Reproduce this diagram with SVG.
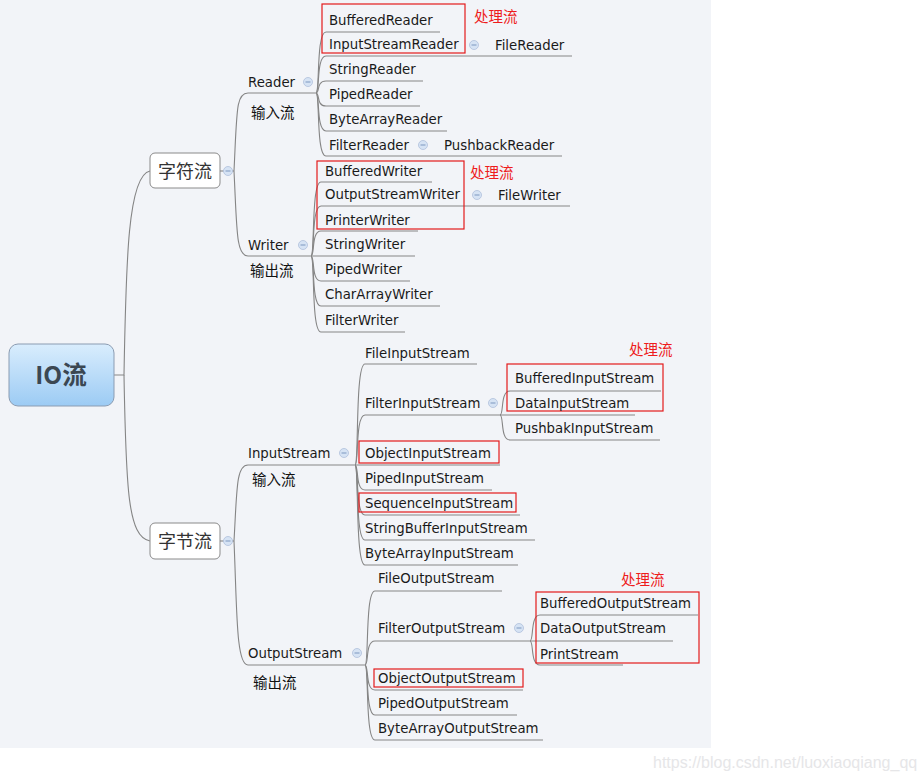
<svg xmlns="http://www.w3.org/2000/svg" width="924" height="780" viewBox="0 0 924 780">
<defs>
<linearGradient id="rootGrad" x1="0" y1="0" x2="0" y2="1">
<stop offset="0" stop-color="#d9edfd"/>
<stop offset="1" stop-color="#9ccbf4"/>
</linearGradient>
<style>
.t{font-family:"DejaVu Sans","Liberation Sans",sans-serif;font-size:13.3px;fill:#1a1a1a}
.cn{font-family:"Noto Sans CJK SC","DejaVu Sans",sans-serif;font-size:14.5px;fill:#111}
.red{font-family:"Noto Sans CJK SC","DejaVu Sans",sans-serif;font-size:14.5px;fill:#ee1c1c}
.l1{font-family:"Noto Sans CJK SC","DejaVu Sans",sans-serif;font-size:18px;fill:#333}
.ln{fill:none;stroke:#858585;stroke-width:1.1}
.box{fill:none;stroke:#e3191c;stroke-width:1.2}
.nb{fill:#ffffff;stroke:#8a8a8a;stroke-width:1}
.cc{fill:#d6e3f4;stroke:#aebfdb;stroke-width:0.8}
.cm{stroke:#7d97bf;stroke-width:1}
</style>
</defs>
<rect x="0" y="0" width="924" height="780" fill="#ffffff"/>
<rect x="0" y="0" width="711" height="748" fill="#f2f4f8"/>

<g id="connectors">
<path class="ln" d="M114,375 L124,375 C126,260 128,175 150,171"/>
<path class="ln" d="M124,375 C126,490 128,537 150,541"/>
<path class="ln" d="M220,171 L234,171"/>
<path class="ln" d="M234,171 C237,110 236,93 248,93 L316,93"/>
<path class="ln" d="M234,171 C237,230 236,256 248,256 L311,256"/>
<path class="ln" d="M316,93 C320,93 316,32 326,32 L440,32"/>
<path class="ln" d="M316,93 C320,93 316,56 326,56 L572,56"/>
<path class="ln" d="M316,93 C320,93 316,81 326,81 L423,81"/>
<path class="ln" d="M316,93 C320,93 316,106 326,106 L420,106"/>
<path class="ln" d="M316,93 C320,93 316,131 326,131 L447,131"/>
<path class="ln" d="M316,93 C320,93 316,156 326,156 L562,156"/>
<path class="ln" d="M311,256 C315,256 311,182 321,182 L432,182"/>
<path class="ln" d="M311,256 C315,256 311,206 321,206 L570,206"/>
<path class="ln" d="M311,256 C315,256 311,231 321,231 L418,231"/>
<path class="ln" d="M311,256 L415,256"/>
<path class="ln" d="M311,256 C315,256 311,281 321,281 L410,281"/>
<path class="ln" d="M311,256 C315,256 311,306 321,306 L440,306"/>
<path class="ln" d="M311,256 C315,256 311,332 321,332 L405,332"/>
<path class="ln" d="M220,541 L234,541"/>
<path class="ln" d="M234,541 C237,490 236,465 248,465 L500,465"/>
<path class="ln" d="M234,541 C237,610 236,665 248,665 L365,665"/>
<path class="ln" d="M355,465 C359,465 355,364 365,364 L477,364"/>
<path class="ln" d="M355,465 C359,465 355,415 365,415 L635,415"/>
<path class="ln" d="M355,465 C359,465 355,490 365,490 L492,490"/>
<path class="ln" d="M355,465 C359,465 355,515 365,515 L520,515"/>
<path class="ln" d="M355,465 C359,465 355,540 365,540 L535,540"/>
<path class="ln" d="M355,465 C359,465 355,565 365,565 L518,565"/>
<path class="ln" d="M500,415 C504,415 500,391 510,391 L661,391"/>
<path class="ln" d="M500,415 C504,415 500,440 510,440 L660,440"/>
<path class="ln" d="M365,665 C369,665 365,591 375,591 L502,591"/>
<path class="ln" d="M365,665 C369,665 365,641 375,641 L673,641"/>
<path class="ln" d="M365,665 C369,665 365,690 375,690 L523,690"/>
<path class="ln" d="M365,665 C369,665 365,715 375,715 L517,715"/>
<path class="ln" d="M365,665 C369,665 365,740 375,740 L543,740"/>
<path class="ln" d="M530,641 C534,641 530,615 540,615 L698,615"/>
<path class="ln" d="M530,641 C534,641 530,665 540,665 L623,665"/>
</g>

<g id="root">
<rect x="9" y="344" width="105" height="62" rx="9" fill="url(#rootGrad)" stroke="#8b9cb2" stroke-width="1"/>
<text x="61" y="384" text-anchor="middle" font-family="'Noto Sans CJK SC','DejaVu Sans',sans-serif" font-size="24.5" font-weight="bold" fill="#3b4752">IO流</text>
</g>

<g id="char-stream">
<rect class="nb" x="150" y="153" width="70" height="35" rx="5"/>
<text class="l1" x="185" y="177.5" text-anchor="middle">字符流</text>
<circle class="cc" cx="228" cy="171" r="4.5"/><line class="cm" x1="225.5" y1="171" x2="230.5" y2="171"/>
</g>

<g id="byte-stream">
<rect class="nb" x="150" y="523" width="70" height="36" rx="5"/>
<text class="l1" x="185" y="547.5" text-anchor="middle">字节流</text>
<circle class="cc" cx="228" cy="541" r="4.5"/><line class="cm" x1="225.5" y1="541" x2="230.5" y2="541"/>
</g>

<g id="reader">
<text class="t" x="248" y="87">Reader</text>
<text class="cn" x="251" y="118">输入流</text>
<circle class="cc" cx="308" cy="82" r="4.5"/><line class="cm" x1="305.5" y1="82" x2="310.5" y2="82"/>
</g>
<g id="writer">
<text class="t" x="248" y="250">Writer</text>
<text class="cn" x="250" y="276">输出流</text>
<circle class="cc" cx="303" cy="245" r="4.5"/><line class="cm" x1="300.5" y1="245" x2="305.5" y2="245"/>
</g>

<g id="reader-children">
<rect class="box" x="322" y="4" width="143" height="49"/>
<text class="red" x="474" y="22">处理流</text>
<text class="t" x="329" y="25">BufferedReader</text>
<text class="t" x="329" y="49">InputStreamReader</text>
<circle class="cc" cx="474" cy="45" r="4.5"/><line class="cm" x1="471.5" y1="45" x2="476.5" y2="45"/>
<text class="t" x="495" y="50">FileReader</text>
<text class="t" x="329" y="74">StringReader</text>
<text class="t" x="329" y="99">PipedReader</text>
<text class="t" x="329" y="124">ByteArrayReader</text>
<text class="t" x="329" y="150">FilterReader</text>
<circle class="cc" cx="423" cy="145" r="4.5"/><line class="cm" x1="420.5" y1="145" x2="425.5" y2="145"/>
<text class="t" x="444" y="150">PushbackReader</text>
</g>

<g id="writer-children">
<rect class="box" x="317" y="161" width="147" height="68"/>
<text class="red" x="470" y="178">处理流</text>
<text class="t" x="325" y="176">BufferedWriter</text>
<text class="t" x="325" y="199">OutputStreamWriter</text>
<circle class="cc" cx="477" cy="195" r="4.5"/><line class="cm" x1="474.5" y1="195" x2="479.5" y2="195"/>
<text class="t" x="498" y="200">FileWriter</text>
<text class="t" x="325" y="225">PrinterWriter</text>
<text class="t" x="325" y="249">StringWriter</text>
<text class="t" x="325" y="274">PipedWriter</text>
<text class="t" x="325" y="299">CharArrayWriter</text>
<text class="t" x="325" y="325">FilterWriter</text>
</g>

<g id="inputstream">
<text class="t" x="248" y="458">InputStream</text>
<text class="cn" x="252" y="485">输入流</text>
<circle class="cc" cx="344" cy="453" r="4.5"/><line class="cm" x1="341.5" y1="453" x2="346.5" y2="453"/>
</g>

<g id="inputstream-children">
<text class="t" x="365" y="358">FileInputStream</text>
<text class="t" x="365" y="408">FilterInputStream</text>
<circle class="cc" cx="493" cy="403" r="4.5"/><line class="cm" x1="490.5" y1="403" x2="495.5" y2="403"/>
<rect class="box" x="359" y="441" width="140" height="22"/>
<text class="t" x="365" y="458">ObjectInputStream</text>
<text class="t" x="365" y="483">PipedInputStream</text>
<rect class="box" x="359" y="493" width="157" height="19"/>
<text class="t" x="365" y="508">SequenceInputStream</text>
<text class="t" x="365" y="533">StringBufferInputStream</text>
<text class="t" x="365" y="558">ByteArrayInputStream</text>
</g>

<g id="filterinputstream-children">
<text class="red" x="629" y="355">处理流</text>
<rect class="box" x="507" y="364" width="156" height="47"/>
<text class="t" x="515" y="383">BufferedInputStream</text>
<text class="t" x="515" y="408">DataInputStream</text>
<text class="t" x="515" y="433">PushbakInputStream</text>
</g>

<g id="outputstream">
<text class="t" x="248" y="658">OutputStream</text>
<text class="cn" x="253" y="688">输出流</text>
<circle class="cc" cx="357" cy="653" r="4.5"/><line class="cm" x1="354.5" y1="653" x2="359.5" y2="653"/>
</g>

<g id="outputstream-children">
<text class="t" x="378" y="583">FileOutputStream</text>
<text class="t" x="378" y="633">FilterOutputStream</text>
<circle class="cc" cx="519" cy="628" r="4.5"/><line class="cm" x1="516.5" y1="628" x2="521.5" y2="628"/>
<rect class="box" x="374" y="669" width="149" height="18"/>
<text class="t" x="378" y="683">ObjectOutputStream</text>
<text class="t" x="378" y="708">PipedOutputStream</text>
<text class="t" x="378" y="733">ByteArrayOutputStream</text>
</g>

<g id="filteroutputstream-children">
<text class="red" x="621" y="585">处理流</text>
<rect class="box" x="536" y="592" width="163" height="71"/>
<text class="t" x="540" y="608">BufferedOutputStream</text>
<text class="t" x="540" y="633">DataOutputStream</text>
<text class="t" x="540" y="659">PrintStream</text>
</g>

<text x="653" y="768" font-family="'Liberation Sans',Arial,sans-serif" font-size="16" fill="#e6e6e8">https://blog.csdn.net/luoxiaoqiang_qq</text>
</svg>
